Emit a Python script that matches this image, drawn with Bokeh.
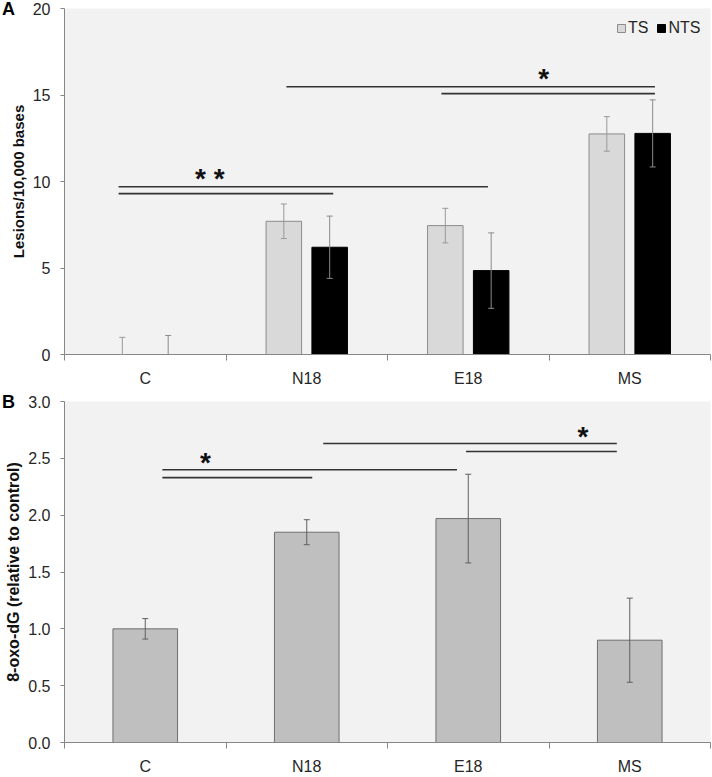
from bokeh.plotting import figure
from bokeh.models import (Range1d, FixedTicker, ColumnDataSource, Whisker, TeeHead,
                          Legend, LegendItem, NumeralTickFormatter)
from bokeh.layouts import column
from bokeh.embed import file_html
from bokeh.resources import INLINE
from bokeh.core.properties import value

# ---------------- data ----------------
categories = ["C", "N18", "E18", "MS"]
panel_letters = ["A", "B"]

# Panel A: lesions / 10,000 bases
ts_mean = [0.0, 7.70, 7.45, 12.75]
ts_err = [0.99, 1.00, 1.00, 1.00]
nts_mean = [0.0, 6.20, 4.85, 12.78]
nts_err = [1.10, 1.80, 2.18, 1.94]

# Panel B: 8-oxo-dG relative to control
oxo_mean = [1.00, 1.85, 1.97, 0.90]
oxo_err = [0.09, 0.11, 0.39, 0.37]

# significance brackets (category axis units, 0..4)
sigA_x0 = [0.335, 0.335, 1.374, 2.334]
sigA_x1 = [1.664, 2.622, 3.656, 3.656]
sigA_y = [9.30, 9.70, 15.48, 15.08]
starA_text = ["* *", "*"]
starA_x = [0.90, 2.967]
starA_y = [10.15, 15.95]

sigB_x0 = [0.606, 0.606, 1.602, 2.486]
sigB_x1 = [1.534, 2.430, 3.420, 3.420]
sigB_y = [2.33, 2.40, 2.63, 2.56]
starB_text = ["*", "*"]
starB_x = [0.872, 3.21]
starB_y = [2.46, 2.69]

FONT = "Liberation Sans"
BG = "#f2f2f2"
AXIS = "#868686"
TXT = "#262626"


def make_fig(height, ymax, ystep, left, top, bottom, right, fmt):
    p = figure(width=712, height=height, x_range=Range1d(0, 4), y_range=Range1d(0, ymax),
               output_backend="svg", toolbar_location=None,
               min_border_left=left, min_border_top=top, min_border_bottom=bottom,
               min_border_right=right)
    p.background_fill_color = BG
    p.border_fill_color = "white"
    p.outline_line_color = None
    p.xgrid.grid_line_color = None
    p.ygrid.grid_line_color = None

    xa = p.xaxis[0]
    centers = [i + 0.5 for i in range(len(categories))]
    xa.ticker = FixedTicker(ticks=centers, minor_ticks=list(range(len(categories) + 1)))
    xa.major_label_overrides = {c: lab for c, lab in zip(centers, categories)}
    xa.major_tick_line_color = None
    xa.major_tick_out = 0
    xa.major_tick_in = 0
    xa.minor_tick_out = 6
    xa.minor_tick_in = 0
    xa.minor_tick_line_color = AXIS
    xa.axis_line_color = AXIS
    xa.major_label_text_font = FONT
    xa.major_label_text_font_size = "16px"
    xa.major_label_text_color = TXT
    xa.major_label_standoff = 9

    ya = p.yaxis[0]
    ya.ticker = FixedTicker(ticks=[i * ystep for i in range(int(round(ymax / ystep)) + 1)])
    ya.minor_tick_line_color = None
    ya.major_tick_out = 4
    ya.major_tick_in = 0
    ya.major_tick_line_color = AXIS
    ya.axis_line_color = AXIS
    ya.major_label_text_font = FONT
    ya.major_label_text_font_size = "16px"
    ya.major_label_text_color = TXT
    ya.major_label_standoff = 10
    ya.formatter = NumeralTickFormatter(format=fmt)
    ya.axis_label_text_font = FONT
    ya.axis_label_text_font_style = "bold"
    ya.axis_label_text_color = "#111111"
    ya.axis_label_standoff = 3
    return p


def add_whisker(p, src, xk, hk, lk, col):
    w = Whisker(base=xk, upper=hk, lower=lk, source=src, dimension="height",
                line_color=col, line_width=1, level="annotation",
                upper_head=TeeHead(size=6, line_color=col, line_width=1),
                lower_head=TeeHead(size=6, line_color=col, line_width=1))
    p.add_layout(w)


# ---------------- Panel A ----------------
HA = 389
pA = make_fig(HA, 20, 5, 60, 8, 28, 2, "0")
pA.yaxis[0].axis_label = "Lesions/10,000 bases"
pA.yaxis[0].axis_label_text_font_size = "15px"

bw = 0.22
off = 0.142
xc = [i + 0.5 for i in range(len(categories))]
srcA = ColumnDataSource(dict(
    x_ts=[x - off for x in xc], x_nts=[x + off for x in xc],
    ts=ts_mean, nts=nts_mean,
    ts_hi=[m + e for m, e in zip(ts_mean, ts_err)],
    ts_lo=[max(0.0, m - e) for m, e in zip(ts_mean, ts_err)],
    nts_hi=[m + e for m, e in zip(nts_mean, nts_err)],
    nts_lo=[max(0.0, m - e) for m, e in zip(nts_mean, nts_err)],
))
r_ts = pA.vbar(x="x_ts", top="ts", width=bw, source=srcA, fill_color="#d9d9d9",
               line_color="#8c8c8c", line_width=1)
r_nts = pA.vbar(x="x_nts", top="nts", width=bw, source=srcA, fill_color="#000000",
                line_color="#000000", line_width=1)

add_whisker(pA, srcA, "x_ts", "ts_hi", "ts_lo", "#999999")
add_whisker(pA, srcA, "x_nts", "nts_hi", "nts_lo", "#8a8a8a")

pA.segment(x0=sigA_x0, x1=sigA_x1, y0=sigA_y, y1=sigA_y, line_color="#333333", line_width=1.6)
pA.text(x=starA_x, y=starA_y, text=starA_text, text_font=value(FONT), text_font_size="28px",
        text_font_style="bold", text_align="center", text_baseline="middle", text_color="#111111")

legend = Legend(items=[LegendItem(label="TS", renderers=[r_ts]),
                       LegendItem(label="NTS", renderers=[r_nts])],
                orientation="horizontal", location=(552, 316),
                glyph_width=10, glyph_height=10, label_standoff=2, spacing=8,
                padding=0, margin=0, label_height=20,
                label_text_font=FONT, label_text_font_size="16px", label_text_color=TXT,
                background_fill_alpha=0, border_line_alpha=0)
pA.add_layout(legend)

# ---------------- Panel B ----------------
HB = 388
pB = make_fig(HB, 3.0, 0.5, 64, 12, 26, 1, "0.0")
pB.yaxis[0].axis_label = "8-oxo-dG (relative to control)"
pB.yaxis[0].axis_label_text_font_size = "16px"

srcB = ColumnDataSource(dict(
    x=xc, m=oxo_mean,
    hi=[m + e for m, e in zip(oxo_mean, oxo_err)],
    lo=[m - e for m, e in zip(oxo_mean, oxo_err)],
))
pB.vbar(x="x", top="m", width=0.40, source=srcB, fill_color="#bfbfbf",
        line_color="#6f6f6f", line_width=1)
add_whisker(pB, srcB, "x", "hi", "lo", "#5f5f5f")

pB.segment(x0=sigB_x0, x1=sigB_x1, y0=sigB_y, y1=sigB_y, line_color="#333333", line_width=1.6)
pB.text(x=starB_x, y=starB_y, text=starB_text, text_font=value(FONT), text_font_size="28px",
        text_font_style="bold", text_align="center", text_baseline="middle", text_color="#111111")

layout = column(pA, pB, spacing=0)
html = file_html(layout, INLINE)

# panel letters placed in the page margin area (outside the plot frames)
letter_tops = [0, HA + 4]
letters_html = "".join(
    '<div style="position:absolute;left:2px;top:%dpx;font-family:\'%s\';font-weight:bold;'
    'font-size:18px;line-height:18px;color:#000;z-index:10;">%s</div>' % (t, FONT, l)
    for l, t in zip(panel_letters, letter_tops))
html = html.replace("<head>", "<head><style>html,body{margin:0;padding:0;}</style>", 1)
html = html.replace("</body>", letters_html + "</body>", 1)
open("out.html", "w").write(html)
